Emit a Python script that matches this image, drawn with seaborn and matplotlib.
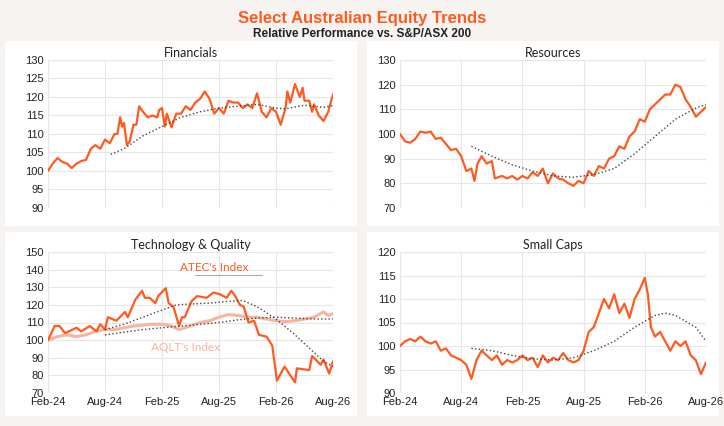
import matplotlib
matplotlib.use("Agg")
import matplotlib.pyplot as plt
import seaborn as sns
import pandas as pd

sns.set_theme(style="white")
plt.rcParams['font.family'] = ['Liberation Sans', 'DejaVu Sans']

xticks = [0, 6, 12, 18, 24, 30]
xlabels = ["Feb-24", "Aug-24", "Feb-25", "Aug-25", "Feb-26", "Aug-26"]

fin_x = [0,0.5,1,1.5,2,2.5,3,3.5,4,4.5,5,5.5,6,6.5,7,7.3,7.6,7.8,8,8.3,8.6,9,9.3,9.6,10,10.5,11,11.5,11.7,12,12.3,12.5,13,13.5,14,14.5,15,15.5,16,16.5,17,17.5,18,18.5,19,19.5,20,20.5,21,21.5,22,22.5,23,23.5,24,24.5,25,25.2,25.5,26,26.5,26.8,27,27.5,27.8,28,28.5,29,29.5,29.8,30.2,30.6,30.9]
fin_y = [100,102,103.5,102.5,102,100.8,102,102.7,103,106,107,106,108.5,107.5,110,110,114.5,112,113,107,108,112.5,112.5,117.5,116,114.5,115,114.5,116.5,117,112,115.5,111.8,115.5,115.5,117.5,116.5,118.5,119.5,121.5,119.5,115.5,117,115.5,119,118.5,118.5,117,118,117,121,116,114.5,117,116,112.5,117,121.5,118.5,123.5,120,122.5,119,119,116,118,115,113.5,116,119,122,121,118.5]
fin_tx = [6.6,8,10,12,14,16,18,20,22,24,25,27,29,30.9]
fin_ty = [104.5,106,109.5,112,114.5,116,117,117.5,118,117,116.8,117.8,117.2,118.2]

res_x = [0,0.5,1,1.5,2,2.5,3,3.5,4,5,5.5,6,6.5,7,7.3,7.6,8,8.5,9,9.3,10,10.5,11,11.5,12,12.5,13,13.5,14,14.5,15,15.5,16,16.5,17,17.5,18,18.5,19,19.5,20,20.5,21,21.5,22,22.5,23,23.5,24,24.5,25,25.5,26,26.5,27,27.5,28,28.5,29,29.5,30]
res_y = [100,97,96.5,98,101,100.5,101,98,98.5,93.5,94,91,85,86,81,88,91,88,89,82,83,82,83,81.5,83,82,84.5,83,86,80,84,82,81.5,80,79,81,80,85,83,87,86,90,91,95,94,99,101,106,105,110,112,114,116,116,120,119,114,111,107,109,111]
res_tx = [7,9,11,13,15,17,19,21,23,25,27,29,30]
res_ty = [95,91,87.5,85,83,82.5,83.5,86,92,99,106,110.5,112]

atec_x = [0,0.7,1.2,1.8,3,3.5,4.4,5.1,5.5,6,6.3,7.2,8.1,8.4,9.2,9.9,10.2,10.7,11.3,11.6,12.4,12.7,13.2,13.8,14.1,14.4,15.1,15.7,16.7,17.4,18.1,18.8,19.3,19.7,20.2,20.6,21.1,21.7,22.2,23,23.6,24.1,24.9,26,26.2,27.5,27.8,28.7,29,29.6,30]
atec_y = [100,108,108,104,107,105,108,105,109,106,113,111,116,113,123,128,124,124,121,125,129.5,121,119,108,113,113,122,125,124,127,126,124,128,125,120,119,110,111,103,102,97,77,85,76,84,83,91,86,89,81,88]
aqlt_x = [0,1,2,3,4,5,6,7,8,9,10,11,12,13,13.8,15,16,17,18,19,20,21,22,23,24,25,26,27,28,29,29.5,30]
aqlt_y = [100,102,103,102,103,105,106,106,107,108,108.5,109,109,108,106,108,110,111,113,114.5,114,113,113,112,111,110.5,111,112,113,116,114,115]
atec_tx = [6,8,10,12,13.5,15,17,19,20.5,22,24,26,28,29,30]
atec_ty = [106,109,113,117,120,120.5,121,122,122.5,119,112,103,93,88,85]
aqlt_tx = [6,8,10,12,14,16,18,20,22,24,26,28,30]
aqlt_ty = [103,104.5,106,107,108,109,110,111.5,112.5,113,112.5,112,112]

sc_x = [0,0.5,1,1.5,2,2.5,3,3.5,4,4.5,5,5.5,6,6.5,7,7.5,8,8.5,9,9.5,10,10.5,11,11.5,12,12.5,13,13.5,14,14.5,15,15.5,16,16.5,17,17.5,18,18.5,19,19.5,20,20.5,21,21.5,22,22.5,23,23.5,24,24.3,24.6,25,25.5,26,26.5,27,27.5,28,28.5,29,29.5,30]
sc_y = [100,101,101.5,101,102,101,100.5,101,99,99.5,98,97.5,97,96,93,97,99,98,97,98,96,97,96.5,97,98,97,97.5,95.5,98,96.5,97.5,97,98.5,97,96.5,97,99,103,104,107,110,108,111,107,109,106,110,112,114.5,111,104,102,103,101,99,101,100,101,98,97,94,96.5]
sc_tx = [7,9,11,13,15,17,19,21,23,25,26,27,29,30]
sc_ty = [99.5,99,98,97.3,97,97.5,99,101,104,106.5,107,106.5,104,101]

ORANGE = "#FF5A1F"
SALMON = "#F8B49C"
W, H = 724, 426
fig = plt.figure(figsize=(W/100, H/100), dpi=100, facecolor="#F7F3F0")

def box(x0, y0, x1, y1):
    b = fig.add_axes([x0/W, 1-y1/H, (x1-x0)/W, (y1-y0)/H], zorder=-5)
    b.set_facecolor("white")
    b.set_xticks([]); b.set_yticks([])
    for s in b.spines.values():
        s.set_visible(False)

def mkax(l, t, r, b):
    a = fig.add_axes([l/W, 1-b/H, (r-l)/W, (b-t)/H], zorder=1)
    a.patch.set_alpha(0)
    return a

def style(ax, title, ylim, step, bottom):
    ax.set_xlim(0, 30)
    ax.set_ylim(*ylim)
    ax.set_yticks(range(ylim[0], ylim[1]+1, step))
    ax.set_xticks(xticks)
    ax.set_xticklabels(xlabels if bottom else [])
    ax.grid(True, color="#E6E6E6", lw=0.8)
    ax.set_axisbelow(True)
    for s in ax.spines.values():
        s.set_visible(False)
    ax.tick_params(labelsize=8, length=0, pad=3, colors="#222222")
    ax.set_title(title, fontsize=9, pad=2, family=["Lato", "DejaVu Sans"], color="#222222")
    ax.set_xlabel(""); ax.set_ylabel("")

def line(ax, x, y, color, lw=1.6, ls="-"):
    sns.lineplot(x=x, y=y, ax=ax, color=color, lw=lw, linestyle=ls, estimator=None, sort=False)

box(5, 41, 357, 226); box(367, 41, 719, 226)
box(5, 232, 357, 416); box(367, 232, 719, 416)

ax1 = mkax(48, 60, 333, 208)
line(ax1, fin_x, fin_y, ORANGE)
line(ax1, fin_tx, fin_ty, "#444444", 1.0, ":")
style(ax1, "Financials", (90, 130), 5, False)

ax2 = mkax(400, 60, 706, 208)
line(ax2, res_x, res_y, ORANGE)
line(ax2, res_tx, res_ty, "#444444", 1.0, ":")
style(ax2, "Resources", (70, 130), 10, False)

ax3 = mkax(48, 252, 333, 393)
line(ax3, aqlt_x, aqlt_y, SALMON, 2.2)
line(ax3, atec_x, atec_y, ORANGE)
line(ax3, atec_tx, atec_ty, "#444444", 1.0, ":")
line(ax3, aqlt_tx, aqlt_ty, "#444444", 1.0, ":")
style(ax3, "Technology & Quality", (70, 150), 10, True)
ax3.text(17.5, 141, "ATEC's Index", color=ORANGE, fontsize=8.5, ha="center", va="center",
         family=["Lato", "DejaVu Sans"])
ax3.plot([15.5, 22.5], [137, 137], color="#AAAAAA", lw=0.8)
ax3.text(14.5, 96, "AQLT's Index", color=SALMON, fontsize=8.5, ha="center", va="center",
         family=["Lato", "DejaVu Sans"])

ax4 = mkax(400, 252, 706, 393)
line(ax4, sc_x, sc_y, ORANGE)
line(ax4, sc_tx, sc_ty, "#444444", 1.0, ":")
style(ax4, "Small Caps", (90, 120), 5, True)

fig.text(0.5, 1-19/H, "Select Australian Equity Trends", ha="center", va="center",
         color=ORANGE, fontsize=12, fontweight="bold")
fig.text(0.5, 1-34/H, "Relative Performance vs. S&P/ASX 200", ha="center", va="center",
         color="#222222", fontsize=8.5, fontweight="bold")

fig.savefig("out.png", dpi=100, facecolor=fig.get_facecolor())
